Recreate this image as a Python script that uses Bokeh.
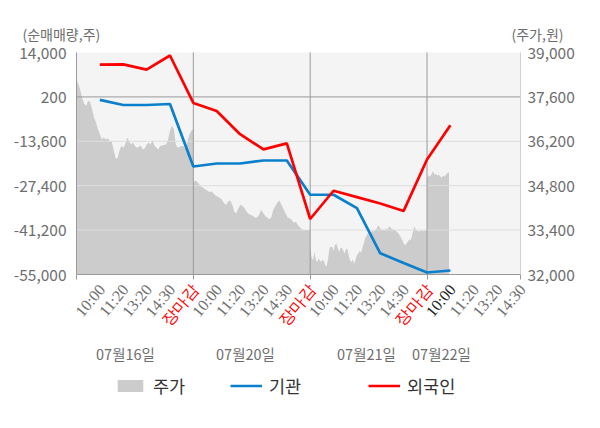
import numpy as np
from bokeh.plotting import figure
from bokeh.models import (Range1d, LinearAxis, FixedTicker, NumeralTickFormatter,
                          Label, LabelSet, ColumnDataSource, Legend, LegendItem, BoxAnnotation)
from bokeh.embed import file_html
from bokeh.resources import INLINE

FONT = "Noto Sans CJK KR"

# ---------------- data ----------------
slot_labels = ["10:00", "11:20", "13:20", "14:30", "장마감",
               "10:00", "11:20", "13:20", "14:30", "장마감",
               "10:00", "11:20", "13:20", "14:30", "장마감",
               "10:00", "11:20", "13:20", "14:30"]
date_labels = ["07월16일", "07월20일", "07월21일", "07월22일"]

left_ticks = [-55000, -41200, -27400, -13600, 200, 14000]
right_ticks = [32000, 33400, 34800, 36200, 37600, 39000]

# net buying (shares) at slots 1..16
inst = [-740, -2310, -2310, -2000, -21440, -20500, -20500, -19560, -19560,
        -30220, -30220, -34390, -48400, -51450, -54370, -53750]
foreign = [10240, 10300, 8670, 13060, -1680, -4190, -11400, -16100, -14230,
           -37750, -28970, -30950, -32950, -35240, -19250, -8580]

# stock price (won), intraday, per day
price_d1 = [38120, 38010, 37800, 37540, 37380, 37320, 37480, 37430, 37220, 36950,
            36800, 36580, 36420, 36260, 36320, 36260, 36300, 36210, 36210, 35950,
            35680, 35650, 35890, 36050, 36000, 36100, 36320, 36210, 36100, 36160,
            36050, 36000, 36030, 36070, 35950, 35970, 36100, 36160, 36100, 36240,
            36070, 36000, 35950, 36050, 36070, 36090, 36100, 36260, 36530, 36690,
            36580, 36100, 36000, 36030, 36050, 36050, 35950, 36210, 36420, 36530, 36580]
price_d2 = [34890, 34970, 34910, 34830, 34760, 34730, 34670, 34640, 34590, 34620,
            34550, 34480, 34460, 34410, 34360, 34250, 34200, 34300, 34330, 34200,
            33980, 33930, 34090, 34200, 34160, 34090, 33980, 33910, 33880, 33850,
            33800, 33800, 33880, 34040, 33950, 33850, 33800, 33740, 33800, 34040,
            34160, 34270, 34330, 34200, 34060, 33930, 33800, 33770, 33720, 33630,
            33660, 33560, 33490, 33420, 33400, 33400, 33400, 33400]
price_d3 = [32870, 32550, 32450, 32710, 32500, 32390, 32500, 32450, 32390, 32470,
            32420, 32290, 32260, 32500, 32820, 32890, 32850, 32760, 32920, 32980,
            32850, 32710, 32820, 32850, 32760, 32660, 32790, 32820, 32610, 32450,
            32390, 32470, 32340, 32470, 32610, 32660, 32740, 32680, 32850, 32980,
            33140, 33240, 33290, 33350, 33310, 33380, 33350, 33400, 33420, 33510,
            33530, 33450, 33400, 33420, 33400, 33450, 33420, 33490, 33510, 33450,
            33420, 33420, 33380, 33350, 33310, 33240, 33170, 33080, 32980, 32920,
            32980, 33030, 33100, 33080, 33210, 33400, 33510, 33400, 33380, 33350,
            33380, 33380, 33380, 33370, 33370, 33380]
price_d4 = [35050, 35120, 35080, 35150, 35260, 35150, 35180, 35120, 35150, 35100,
            35050, 35120, 35080, 35150, 35200, 35220]

# ---------------- layout helpers ----------------
W, H = 600, 428
N_SLOTS = len(slot_labels)
Y0, Y1 = left_ticks[0], left_ticks[-1]
P0, P1 = right_ticks[0], right_ticks[-1]
FL, FT, FW, FH = 76, 52, 444, 222  # plotting region on the canvas (px)


def dx(px):
    return (px - FL) / FW * N_SLOTS


def dy(py):
    return Y1 - (py - FT) / FH * (Y1 - Y0)


def pdy(py):
    return P1 - (py - FT) / FH * (P1 - P0)


# x positions of the price samples (day k spans slots 5k..5k+5)
day_spans = [(0, 5), (5, 10), (10, 15), (15, 15.94)]
px_list, pv_list = [], []
for (a, b), arr in zip(day_spans, [price_d1, price_d2, price_d3, price_d4]):
    px_list.extend(np.linspace(a, b, len(arr)))
    pv_list.extend(arr)

line_x = list(range(1, len(inst) + 1))

# ---------------- figure ----------------
p = figure(width=W, height=H, x_range=Range1d(dx(0), dx(W)), y_range=Range1d(dy(H), dy(0)),
           output_backend="svg", toolbar_location=None,
           x_axis_location=None, y_axis_location=None,
           min_border=0, min_border_left=0, min_border_right=0,
           min_border_top=0, min_border_bottom=0)
p.extra_y_ranges = {"price": Range1d(pdy(H), pdy(0))}
p.background_fill_color = "white"
p.border_fill_color = "white"
p.outline_line_color = None
p.grid.visible = False

# plotting-area background
p.add_layout(BoxAnnotation(left=0, right=N_SLOTS, bottom=Y0, top=Y1,
                           fill_color="#f4f4f4", fill_alpha=1.0,
                           line_color=None, level="underlay"))

TXT = "#6e6e6e"


def style_axis(ax, standoff):
    ax.major_tick_in = 0
    ax.minor_tick_out = 0
    ax.minor_tick_in = 0
    ax.major_label_text_color = TXT
    ax.major_label_text_font = FONT
    ax.major_label_text_font_size = "15.5px"
    ax.major_label_standoff = standoff


# left axis
ya = LinearAxis(fixed_location=0, bounds=(Y0, Y1),
                ticker=FixedTicker(ticks=left_ticks),
                formatter=NumeralTickFormatter(format="0,0"))
style_axis(ya, 10)
ya.major_tick_out = 0
ya.axis_line_color = "#9a9a9a"
p.add_layout(ya, "left")

# right axis
ra = LinearAxis(y_range_name="price", fixed_location=N_SLOTS, bounds=(P0, P1),
                ticker=FixedTicker(ticks=right_ticks),
                formatter=NumeralTickFormatter(format="0,0"))
style_axis(ra, 7)
ra.major_tick_out = 0
ra.axis_line_color = "#d0d0d0"
p.add_layout(ra, "right")

# bottom axis: day-boundary ticks only (labels drawn by a LabelSet)
bticks = [0, 5, 10, 15, N_SLOTS]
xa = LinearAxis(fixed_location=Y0, bounds=(0, N_SLOTS), ticker=FixedTicker(ticks=bticks))
style_axis(xa, 2)
xa.major_label_overrides = {t: "" for t in bticks}
xa.major_tick_out = 5
xa.axis_line_color = "#9a9a9a"
xa.major_tick_line_color = "#9a9a9a"
p.add_layout(xa, "below")

# price area
area = p.varea(x=px_list, y1=P0, y2=pv_list, y_range_name="price",
               fill_color="#cccccc", fill_alpha=1.0)

# light grid lines
gt = left_ticks[1:4]
p.segment(x0=[0] * len(gt), x1=[N_SLOTS] * len(gt), y0=gt, y1=gt,
          line_color="#dedede", line_width=1)
# darker reference line and day separators
p.segment(x0=[0], x1=[N_SLOTS], y0=[left_ticks[4]], y1=[left_ticks[4]],
          line_color="#9a9a9a", line_width=1)
seps = bticks[1:4]
p.segment(x0=seps, x1=seps, y0=[Y0] * len(seps), y1=[Y1] * len(seps),
          line_color="#9a9a9a", line_width=1)

# lines
l_inst = p.line(line_x, inst, line_color="#0a80cc", line_width=2.7)
l_for = p.line(line_x, foreign, line_color="#ff0000", line_width=2.7)

# x tick labels
lab_colors = []
for i, t in enumerate(slot_labels):
    if t == "장마감":
        lab_colors.append("#ff0000")
    elif i == 15:
        lab_colors.append("#222222")
    else:
        lab_colors.append(TXT)
src = ColumnDataSource(dict(x=list(range(1, N_SLOTS + 1)),
                            y=[dy(286)] * N_SLOTS,
                            text=slot_labels, color=lab_colors))
p.add_layout(LabelSet(x="x", y="y", text="text", source=src, angle=np.deg2rad(50),
                      text_align="right", text_baseline="middle",
                      text_color="color", text_font=FONT, text_font_size="16px",
                      x_offset=2))

# date labels
for t, cx in zip(date_labels, [125, 245, 366, 441]):
    p.add_layout(Label(x=dx(cx), y=dy(353), text=t, text_align="center",
                       text_baseline="middle", text_font=FONT, text_font_size="14.5px",
                       text_color=TXT))

# axis titles
p.add_layout(Label(x=dx(22), y=dy(33), text="(순매매량,주)", text_align="left",
                   text_baseline="middle", text_font=FONT, text_font_size="14px",
                   text_color=TXT))
p.add_layout(Label(x=dx(563), y=dy(33), text="(주가,원)", text_align="right",
                   text_baseline="middle", text_font=FONT, text_font_size="14px",
                   text_color=TXT))

# legends
for r, name, lx in [(area, "주가", 114), (l_inst, "기관", 230), (l_for, "외국인", 368)]:
    lg = Legend(items=[LegendItem(label=name, renderers=[r])],
                location=(lx, 30), orientation="horizontal",
                glyph_width=32, glyph_height=15, label_standoff=7,
                padding=0, margin=0, border_line_color=None,
                background_fill_alpha=0, label_text_font=FONT,
                label_text_font_size="17.5px", label_text_color="#333333")
    p.add_layout(lg, "center")

open("out.html", "w").write(file_html(p, INLINE))
